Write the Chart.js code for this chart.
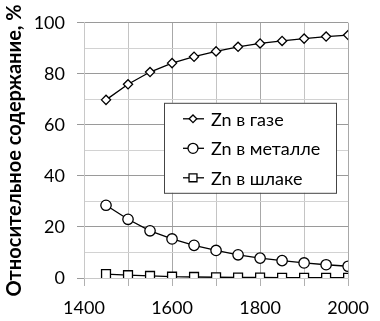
<!DOCTYPE html>
<html>
<head>
<meta charset="utf-8">
<script src="https://cdn.jsdelivr.net/npm/chart.js@4/dist/chart.umd.min.js"></script>
<style>
html, body { margin: 0; padding: 0; background: #fff; }
#wrap { width: 380px; height: 321px; position: relative; }
</style>
</head>
<body>
<div id="wrap"><canvas id="chart"></canvas></div>
<script>
// temperature points
var temps = [1450, 1500, 1550, 1600, 1650, 1700, 1750, 1800, 1850, 1900, 1950, 2000];
// relative Zn content, %
var gasZn   = [69.8, 75.9, 80.7, 84.2, 86.7, 88.8, 90.6, 91.9, 92.9, 93.8, 94.6, 95.2];
var metalZn = [28.5, 23.0, 18.5, 15.3, 12.8, 10.8, 9.1, 7.8, 6.8, 5.9, 5.2, 4.6];
var slagZn  = [1.5, 1.1, 0.8, 0.5, 0.4, 0.3, 0.2, 0.2, 0.1, 0.1, 0.1, 0.1];
var seriesNames = ['Zn в газе', 'Zn в металле', 'Zn в шлаке'];
var seriesStyles = ['rectRot', 'circle', 'rect'];
var yTitle = 'Относительное содержание, %';

var FONT = 'Lato, "Open Sans", sans-serif';

function toPoints(vals) {
    return vals.map((v, i) => ({ x: temps[i], y: v }));
}

function makeSet(label, vals, style, radius) {
    return {
        label: label,
        data: toPoints(vals),
        borderColor: '#000',
        borderWidth: 1.3,
        backgroundColor: '#fff',
        pointStyle: style,
        pointRadius: radius,
        pointBorderWidth: 1.3,
        pointBorderColor: '#000',
        pointBackgroundColor: '#fff',
        tension: 0
    };
}

/////////////////////////////////////////////////////////////////////////////
// legend in a box inside the plot

const boxLegend = {
    id: 'boxLegend',
    afterDraw(chart) {
        const ctx = chart.ctx;
        const a = chart.chartArea;
        const left = a.left + 80, top = a.top + 80, w = 172, h = 90;
        ctx.save();
        ctx.fillStyle = '#fff';
        ctx.fillRect(left, top, w, h);
        ctx.strokeStyle = '#444';
        ctx.lineWidth = 1;
        ctx.strokeRect(left + 0.5, top + 0.5, w, h);

        const sizes = [3.8, 5, 5.6];
        chart.data.datasets.forEach((ds, i) => {
            const y = top + 16 + i * 29.5;
            const mx = left + 29;
            ctx.strokeStyle = '#000';
            ctx.lineWidth = 1.3;
            ctx.beginPath();
            ctx.moveTo(left + 19, y);
            ctx.lineTo(left + 40, y);
            ctx.stroke();
            ctx.fillStyle = '#fff';
            Chart.helpers.drawPoint(ctx, {
                pointStyle: seriesStyles[i],
                radius: sizes[i],
                borderWidth: 1.3,
                rotation: 0
            }, mx, y);
            ctx.fillStyle = '#000';
            ctx.font = '18px ' + FONT;
            ctx.textBaseline = 'middle';
            ctx.textAlign = 'left';
            ctx.fillText(ds.label, left + 47, y + 1);
        });
        ctx.restore();
    }
};

document.addEventListener('DOMContentLoaded', function() {
    const data = {
        datasets: [
            makeSet(seriesNames[0], gasZn, seriesStyles[0], 4.6),
            makeSet(seriesNames[1], metalZn, seriesStyles[1], 5.2),
            makeSet(seriesNames[2], slagZn, seriesStyles[2], 6.3)
        ]
    };

    const config = {
        type: 'line',
        data: data,
        options: {
            responsive: true,
            maintainAspectRatio: false,
            animation: false,
            layout: { padding: { top: 12, right: 24, left: 0, bottom: 0 } },
            plugins: {
                legend: { display: false },
                tooltip: { enabled: false }
            },
            scales: {
                x: {
                    type: 'linear',
                    min: 1400,
                    max: 2000,
                    afterFit: s => { s.height = 43; },
                    border: { color: '#c8c8c8', width: 1 },
                    grid: {
                        color: c => (c.tick && c.tick.value % 200 === 0) ? '#a8a8a8' : '#c4c4c4',
                        tickColor: '#b0b0b0',
                        tickLength: 8,
                        lineWidth: 1
                    },
                    ticks: {
                        stepSize: 100,
                        padding: 11,
                        color: '#000',
                        font: { family: FONT, size: 18 },
                        maxRotation: 0,
                        autoSkip: false,
                        callback: v => (v % 200 === 0 ? String(v) : '')
                    }
                },
                y: {
                    min: 0,
                    max: 100,
                    afterFit: s => { s.width = 84; },
                    border: { color: '#c8c8c8', width: 1 },
                    grid: {
                        color: c => (c.tick && c.tick.value % 20 === 0) ? '#9a9a9a' : '#d2d2d2',
                        tickColor: c => (c.tick && c.tick.value % 20 === 0) ? '#9a9a9a' : 'rgba(0,0,0,0)',
                        tickLength: 7,
                        lineWidth: 1
                    },
                    ticks: {
                        stepSize: 10,
                        padding: 12,
                        color: '#000',
                        font: { family: FONT, size: 18 },
                        autoSkip: false,
                        callback: v => (v % 20 === 0 ? String(v) : '')
                    },
                    title: {
                        display: true,
                        text: yTitle,
                        color: '#000',
                        font: { family: FONT, size: 20, weight: 'bold' },
                        padding: { top: 3, bottom: 0 }
                    }
                }
            }
        },
        plugins: [boxLegend]
    };

    const live = new Chart(document.getElementById('chart'), config);
});
</script>
</body>
</html>
